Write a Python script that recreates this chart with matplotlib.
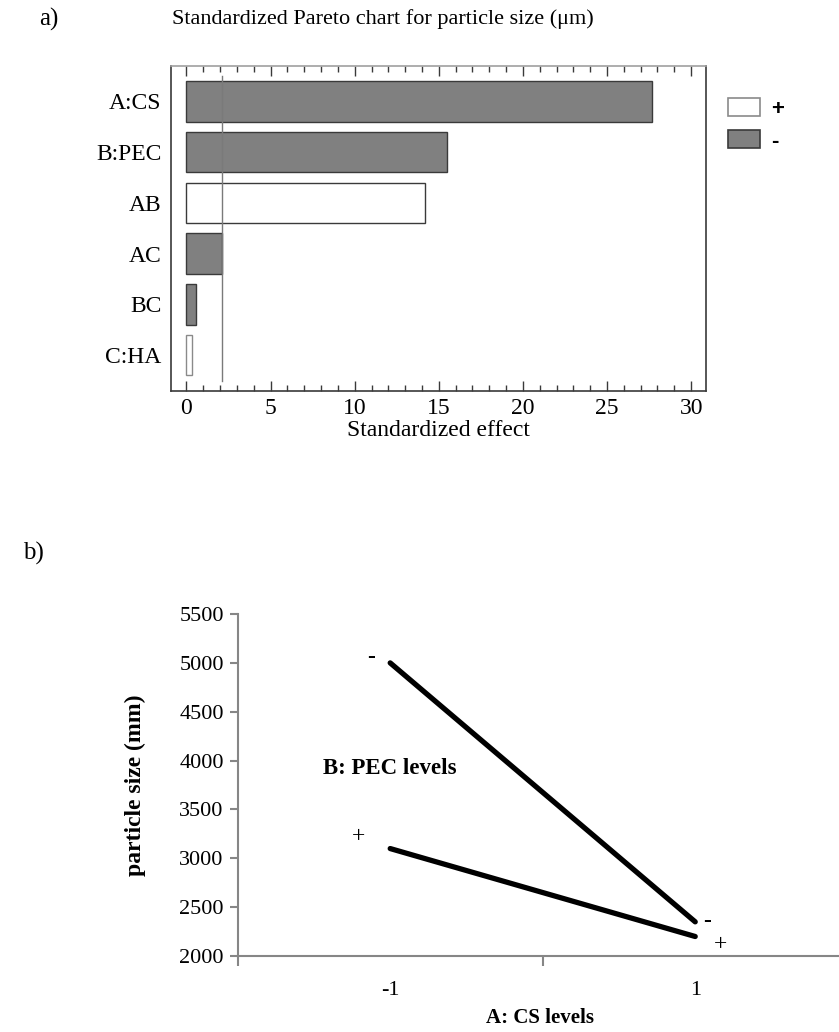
import matplotlib
matplotlib.use("Agg")
import matplotlib.pyplot as plt
from matplotlib.ticker import MultipleLocator
from matplotlib.patches import Patch

# ---- data: Pareto chart ----
factors = ['A:CS', 'B:PEC', 'AB', 'AC', 'BC', 'C:HA']
effects = [27.7, 15.5, 14.2, 2.1, 0.55, 0.3]
signs = ['-', '-', '+', '-', '-', '+']
critical_value = 2.1

# ---- data: interaction plot ----
cs_levels = ['-1', '1']
pec_minus = [5000, 2350]
pec_plus = [3100, 2200]

SERIF = ['Liberation Serif', 'DejaVu Serif']
plt.rcParams['font.family'] = SERIF

fig = plt.figure(figsize=(8.39, 10.32), dpi=100)

# ================= a) Pareto chart =================
ax1 = fig.add_axes([0.2042, 0.6214, 0.6376, 0.3149])
ypos = list(range(len(factors)))
for y, v, s in zip(ypos, effects, signs):
    if s == '-':
        ax1.barh(y, v, height=0.8, color='#808080', edgecolor='#3a3a3a', linewidth=1.0)
    else:
        ec = '#3a3a3a' if v > 1 else '#8a8a8a'
        ax1.barh(y, v, height=0.8, color='white', edgecolor=ec, linewidth=1.0)
ax1.plot([critical_value, critical_value], [-0.5, 5.5], color='#7a7a7a', linewidth=1.0)
ax1.set_xlim(-0.9, 30.9)
ax1.set_ylim(5.7, -0.7)
ax1.set_yticks(ypos)
ax1.set_yticklabels(factors, fontsize=17)
ax1.xaxis.set_major_locator(MultipleLocator(5))
ax1.xaxis.set_minor_locator(MultipleLocator(1))
ax1.tick_params(axis='x', which='both', direction='in', top=True, bottom=True,
                color='#3a3a3a', labelsize=17, pad=5)
ax1.tick_params(axis='x', which='major', length=7, width=1)
ax1.tick_params(axis='x', which='minor', length=4, width=1)
ax1.tick_params(axis='y', which='both', length=0, pad=7)
for side in ['left', 'right', 'bottom']:
    ax1.spines[side].set_color('#3a3a3a')
    ax1.spines[side].set_linewidth(1.2)
ax1.spines['top'].set_color('#a0a0a0')
ax1.spines['top'].set_linewidth(1.2)
ax1.set_xlabel('Standardized effect', fontsize=17, labelpad=1)
fig.text(0.205, 0.9816, 'Standardized Pareto chart for particle size (\u03bcm)',
         fontsize=16, ha='left', va='center')
fig.text(0.047, 0.9816, 'a)', fontsize=18, ha='left', va='center')

handles = [Patch(facecolor='white', edgecolor='#8a8a8a', linewidth=1.2),
           Patch(facecolor='#808080', edgecolor='#3a3a3a', linewidth=1.2)]
leg = fig.legend(handles, ['+', '-'], loc='upper left', bbox_to_anchor=(0.8546, 0.9158),
                 frameon=False, borderpad=0, handlelength=1.45, handleheight=0.9,
                 handletextpad=0.5, labelspacing=0.45,
                 prop={'family': ['Liberation Sans', 'DejaVu Sans'],
                       'weight': 'bold', 'size': 16})

# ================= b) interaction plot =================
ax2 = fig.add_axes([0.2833, 0.0736, 0.7271, 0.3314])
xc = [0.5, 1.5]
ax2.plot(xc, pec_minus, color='black', linewidth=3.8, solid_capstyle='round')
ax2.plot(xc, pec_plus, color='black', linewidth=3.8, solid_capstyle='round')
ax2.set_xlim(0, 2)
ax2.set_ylim(2000, 5500)
ax2.set_yticks(range(2000, 5501, 500))
ax2.set_yticklabels([str(v) for v in range(2000, 5501, 500)], fontsize=16)
ax2.set_xticks([0, 1, 2])
ax2.set_xticklabels([])
ax2.set_xticks(xc, minor=True)
ax2.set_xticklabels(cs_levels, minor=True, fontsize=16)
ax2.tick_params(axis='x', which='minor', length=0, pad=18)
ax2.tick_params(axis='x', which='major', length=7, width=1.5, color='#868686', direction='out')
ax2.tick_params(axis='y', length=6, width=1.5, color='#868686', direction='out', pad=4)
for side in ['top', 'right']:
    ax2.spines[side].set_visible(False)
for side in ['left', 'bottom']:
    ax2.spines[side].set_color('#868686')
    ax2.spines[side].set_linewidth(1.5)

ax2.text(0.438, 5057, '-', fontsize=17, fontweight='bold', ha='center', va='center')
ax2.text(0.395, 3223, '+', fontsize=17, ha='center', va='center')
ax2.text(1.539, 2350, '-', fontsize=17, fontweight='bold', ha='center', va='center')
ax2.text(1.582, 2117, '+', fontsize=17, ha='center', va='center')
ax2.text(0.5, 3917, 'B: PEC levels', fontsize=16.5, fontweight='bold', ha='center', va='center')

ax2.set_ylabel('particle size (mm)', fontsize=17, fontweight='bold')
ax2.yaxis.set_label_coords((146 - 237.7) / 610.0, 0.5)
ax2.set_xlabel('A: CS levels', fontsize=15, fontweight='bold')
ax2.xaxis.set_label_coords((540 - 237.7) / 610.0, -0.152)
fig.text(0.027, 0.464, 'b)', fontsize=18, ha='left', va='center')

fig.savefig('out.png', dpi=100)
